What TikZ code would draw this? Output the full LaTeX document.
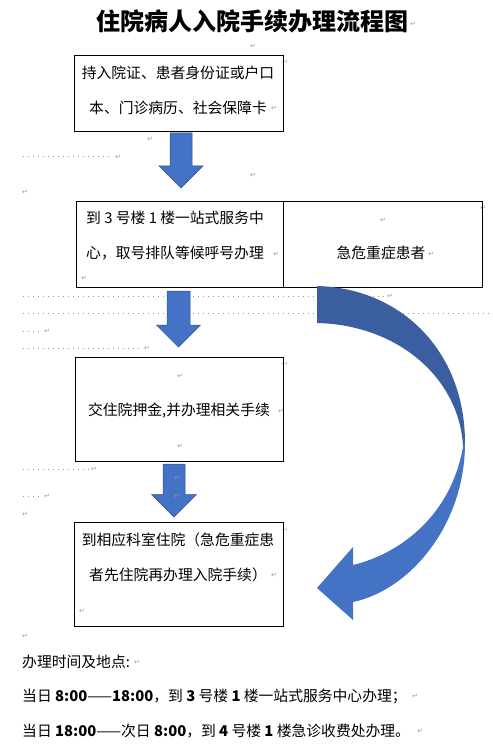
\documentclass[tikz,border=0pt]{standalone}
\usepackage{fontspec}
\setmainfont{Noto Sans CJK SC}
\newfontfamily\symfont{DejaVu Sans}
\definecolor{arrowblue}{HTML}{4472C4}
\definecolor{arrowdark}{HTML}{3A5E9F}
\definecolor{arrowline}{HTML}{2F528F}

\begin{document}
\begin{tikzpicture}[x=1pt,y=-1pt,
  box/.style={draw, line width=1pt, anchor=north west, inner sep=0pt},
  txt/.style={font=\fontsize{14.8}{35}\selectfont, inner sep=0pt},
  blockarrow/.style={fill=arrowblue, draw=arrowline, line width=0.5pt},
  pm/.style={font=\symfont\fontsize{7}{7}\selectfont, text=gray!80, inner sep=0pt},
  dots/.style={gray!80, line width=1pt, dash pattern=on 1pt off 4pt}]
  \useasboundingbox (0,0) rectangle (492,754);

  \node[font=\fontsize{24}{24}\selectfont\bfseries, inner sep=0pt] (title) at (252,21) {住院病人入院手续办理流程图};

  % editing marks of the page
  \draw[dots] (23,157) -- (113,157);
  \draw[dots] (23,296) -- (386,296);
  \draw[dots] (23,313) -- (492,313);
  \draw[dots] (23,331) -- (42,331);
  \draw[dots] (23,348) -- (143,348);
  \draw[dots] (23,469) -- (90,469);
  \draw[dots] (23,496) -- (42,496);
  \foreach \p [count=\i] in {(413,24),(253,46),(285,62),(274,108),(150,139),(118,157),(253,175),
      (25,192),(483,208),(383,220),(276,254),(431,254),(84,278),(390,296),(47,331),(147,348),
      (285,364),(180,376),(281,411),(180,446),(94,469),(47,496),(25,514),(285,530),(274,575),
      (82,611),(25,636),(137,662),(415,696),(420,731)}
    \node[pm] (pm\i) at \p {↵};

  % boxes
  \node[box, minimum width=209, minimum height=76] (b1) at (74,55) {};
  \node[txt, align=center] (t1) at (178,90.5) {持入院证、患者身份证或户口\\本、门诊病历、社会保障卡};
  \node[box, minimum width=207, minimum height=86] (b2) at (76,201) {};
  \node[box, minimum width=199, minimum height=86] (b2r) at (283,201) {};
  \node[txt, align=left, anchor=west] (t2) at (86,236) {到 3 号楼 1 楼一站式服务中\\心，取号排队等候呼号办理};
  \node[txt] (t2r) at (381,253) {急危重症患者};
  \node[box, minimum width=208, minimum height=104] (b3) at (75,357) {};
  \node[txt] (t3) at (179,411) {交住院押金,并办理相关手续};
  \node[box, minimum width=209, minimum height=104] (b4) at (74,522) {};
  \node[txt, align=center] (t4) at (178,557) {到相应科室住院（急危重症患\\者先住院再办理入院手续）};

  % arrows between the steps
  \foreach \x/\ya/\yb/\s/\h in {181/133/188/11/22, 178.5/291/347/11.5/22, 174/464/517/11/22.5}
    \filldraw[blockarrow] (\x-\s,\ya) -- (\x+\s,\ya) -- (\x+\s,\yb-\h) -- (\x+\h,\yb-\h)
      -- (\x,\yb) -- (\x-\h,\yb-\h) -- (\x-\s,\yb-\h) -- cycle;
  \node[pm] (pm31) at (177,478) {↵};
  \node[pm] (pm32) at (177,496) {↵};

  % curved arrow for urgent cases
  \fill[arrowdark] (317,286) .. controls (400,288) and (465,350) .. (465,443)
    -- (463,447) .. controls (460,380) and (400,325) .. (317,323) -- cycle;
  \fill[arrowblue] (465,443) .. controls (465,525) and (410,590) .. (353,602)
    -- (353,620) -- (317,588) -- (353,547) -- (353,565)
    .. controls (395,555) and (450,520) .. (463,447) -- cycle;

  % times and places
  \node[txt, anchor=west] (h) at (22,662) {办理时间及地点:};
  \node[txt, anchor=west] (l1) at (22,696) {当日 \textbf{8:00}——\textbf{18:00}，到 \textbf{3} 号楼 \textbf{1} 楼一站式服务中心办理；};
  \node[txt, anchor=west] (l2) at (22,731) {当日 \textbf{18:00}——次日 \textbf{8:00}，到 \textbf{4} 号楼 \textbf{1} 楼急诊收费处办理。};
\end{tikzpicture}
\end{document}
